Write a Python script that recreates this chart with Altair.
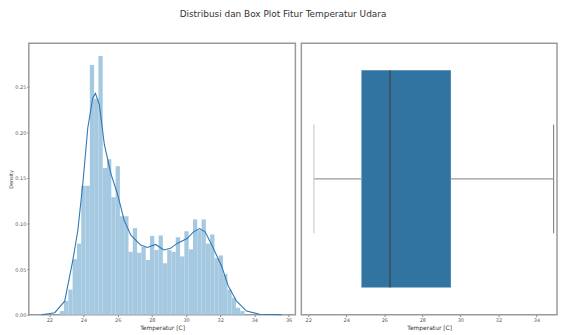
import altair as alt
import pandas as pd

TITLE = "Distribusi dan Box Plot Fitur Temperatur Udara"
X_LABEL = "Temperatur [C]"
Y_LABEL = "Density"

# Histogram (density-normalised)
bin_start = 22.61
bin_width = 0.2515
hist_density = [
    0.004, 0.015, 0.0275, 0.061, 0.078, 0.1415, 0.1415, 0.274, 0.237, 0.284,
    0.161, 0.1705, 0.129, 0.163, 0.108, 0.108, 0.069, 0.095, 0.068, 0.0746,
    0.060, 0.0865, 0.071, 0.087, 0.0565, 0.071, 0.069, 0.085, 0.064, 0.0916,
    0.0717, 0.1046, 0.0927, 0.1046, 0.078, 0.088, 0.062, 0.065, 0.0445, 0.0275,
    0.0185, 0.0076, 0.004,
]

# KDE curve
kde_x = [21.55, 22.32, 22.90, 23.38, 23.67, 23.96, 24.25, 24.54, 24.70, 24.93,
         25.22, 25.61, 25.99, 26.38, 26.77, 27.35, 27.74, 28.22, 28.70, 29.09,
         29.48, 30.06, 30.44, 30.79, 31.12, 31.60, 32.09, 32.48, 32.96, 33.54,
         34.31, 35.59]
kde_y = [0.000, 0.0022, 0.0148, 0.0601, 0.0927, 0.1434, 0.2049, 0.2375, 0.2429, 0.2302,
         0.1868, 0.1542, 0.1325, 0.1035, 0.0872, 0.0764, 0.0738, 0.0771, 0.0710, 0.0728,
         0.0782, 0.0836, 0.0909, 0.0945, 0.0909, 0.0728, 0.0529, 0.0311, 0.0148, 0.0040,
         0.0004, 0.000]

# Box plot statistics
box_lower = 22.3
box_q1 = 24.8
box_median = 26.3
box_q3 = 29.5
box_upper = 34.9

left_ticks = [22, 24, 26, 28, 30, 32, 34, 36]
right_ticks = [22, 24, 26, 28, 30, 32, 34]
y_ticks = [0.0, 0.05, 0.10, 0.15, 0.20, 0.25]

FONT = "DejaVu Sans"

hist_df = pd.DataFrame({
    "x0": [bin_start + i * bin_width for i in range(len(hist_density))],
    "density": hist_density,
})
hist_df["x1"] = hist_df["x0"] + bin_width
kde_df = pd.DataFrame({"x": kde_x, "y": kde_y})

left_x_scale = alt.Scale(domain=[20.8, 36.4], nice=False, zero=False)
left_y_scale = alt.Scale(domain=[0, 0.298], nice=False)

left_x_axis = alt.Axis(values=left_ticks, title=X_LABEL, format="d",
                       labelOverlap=False, tickCount=8)
left_y_axis = alt.Axis(values=y_ticks, title=Y_LABEL, format=".2f", labelOverlap=False,
                       minExtent=19, maxExtent=19, titleX=-15, titleFontSize=5)

bars = alt.Chart(hist_df).mark_rect(color="#a5c9e1").encode(
    x=alt.X("x0:Q", scale=left_x_scale, axis=left_x_axis, title=X_LABEL),
    x2="x1:Q",
    y=alt.Y("density:Q", scale=left_y_scale, axis=left_y_axis, title=Y_LABEL),
    y2=alt.datum(0),
)
kde = alt.Chart(kde_df).mark_line(color="#2f78b3", strokeWidth=1.1).encode(
    x=alt.X("x:Q", scale=left_x_scale, axis=left_x_axis, title=X_LABEL),
    y=alt.Y("y:Q", scale=left_y_scale, axis=left_y_axis, title=Y_LABEL),
)
left = alt.layer(bars, kde).properties(width=269, height=274)

box_df = pd.DataFrame({
    "lower": [box_lower], "q1": [box_q1], "median": [box_median],
    "q3": [box_q3], "upper": [box_upper],
})
right_x_scale = alt.Scale(domain=[21.64, 35.08], nice=False, zero=False)
right_x_axis = alt.Axis(values=right_ticks, title=X_LABEL, format="d",
                        labelOverlap=False, tickCount=7)
ry = alt.Scale(domain=[-0.5, 0.5], nice=False)


def rx(field):
    return alt.X(field, type="quantitative", scale=right_x_scale,
                 axis=right_x_axis, title=X_LABEL)


def ryv(v):
    return alt.Y(datum=v, scale=ry, axis=None)


base = alt.Chart(box_df)
box = base.mark_rect(color="#3274a1").encode(
    x=rx("q1"), x2="q3:Q", y=ryv(-0.4), y2=alt.datum(0.4),
)
wl = base.mark_rule(color="#999999", strokeWidth=1.3).encode(
    x=rx("lower"), x2="q1:Q", y=ryv(0),
)
wr = base.mark_rule(color="#999999", strokeWidth=1.3).encode(
    x=rx("q3"), x2="upper:Q", y=ryv(0),
)
cap_l = base.mark_rule(color="#cccccc", strokeWidth=1.2).encode(
    x=rx("lower"), y=ryv(-0.2), y2=alt.datum(0.2),
)
cap_r = base.mark_rule(color="#888888", strokeWidth=1.2).encode(
    x=rx("upper"), y=ryv(-0.2), y2=alt.datum(0.2),
)
med = base.mark_rule(color="#404040", strokeWidth=1.2).encode(
    x=rx("median"), y=ryv(-0.4), y2=alt.datum(0.4),
)
right = alt.layer(box, wl, wr, cap_l, cap_r, med).properties(width=258, height=274)

chart = alt.hconcat(left, right, spacing=4).properties(
    title=alt.TitleParams(TITLE, fontSize=9, font=FONT, fontWeight="normal",
                          color="#333333", anchor="middle", offset=24),
    padding=0,
).configure_view(
    stroke="#9a9a9a", strokeWidth=1.5,
).configure_axis(
    labelFont=FONT, titleFont=FONT, labelFontSize=5, titleFontSize=6,
    labelColor="#555555", titleColor="#333333", titleFontWeight="normal",
    tickSize=2, tickColor="#888888", domain=False, grid=False,
    labelPadding=1, titlePadding=2,
)

chart.save("out.html", embed_options={"renderer": "svg", "actions": False})
